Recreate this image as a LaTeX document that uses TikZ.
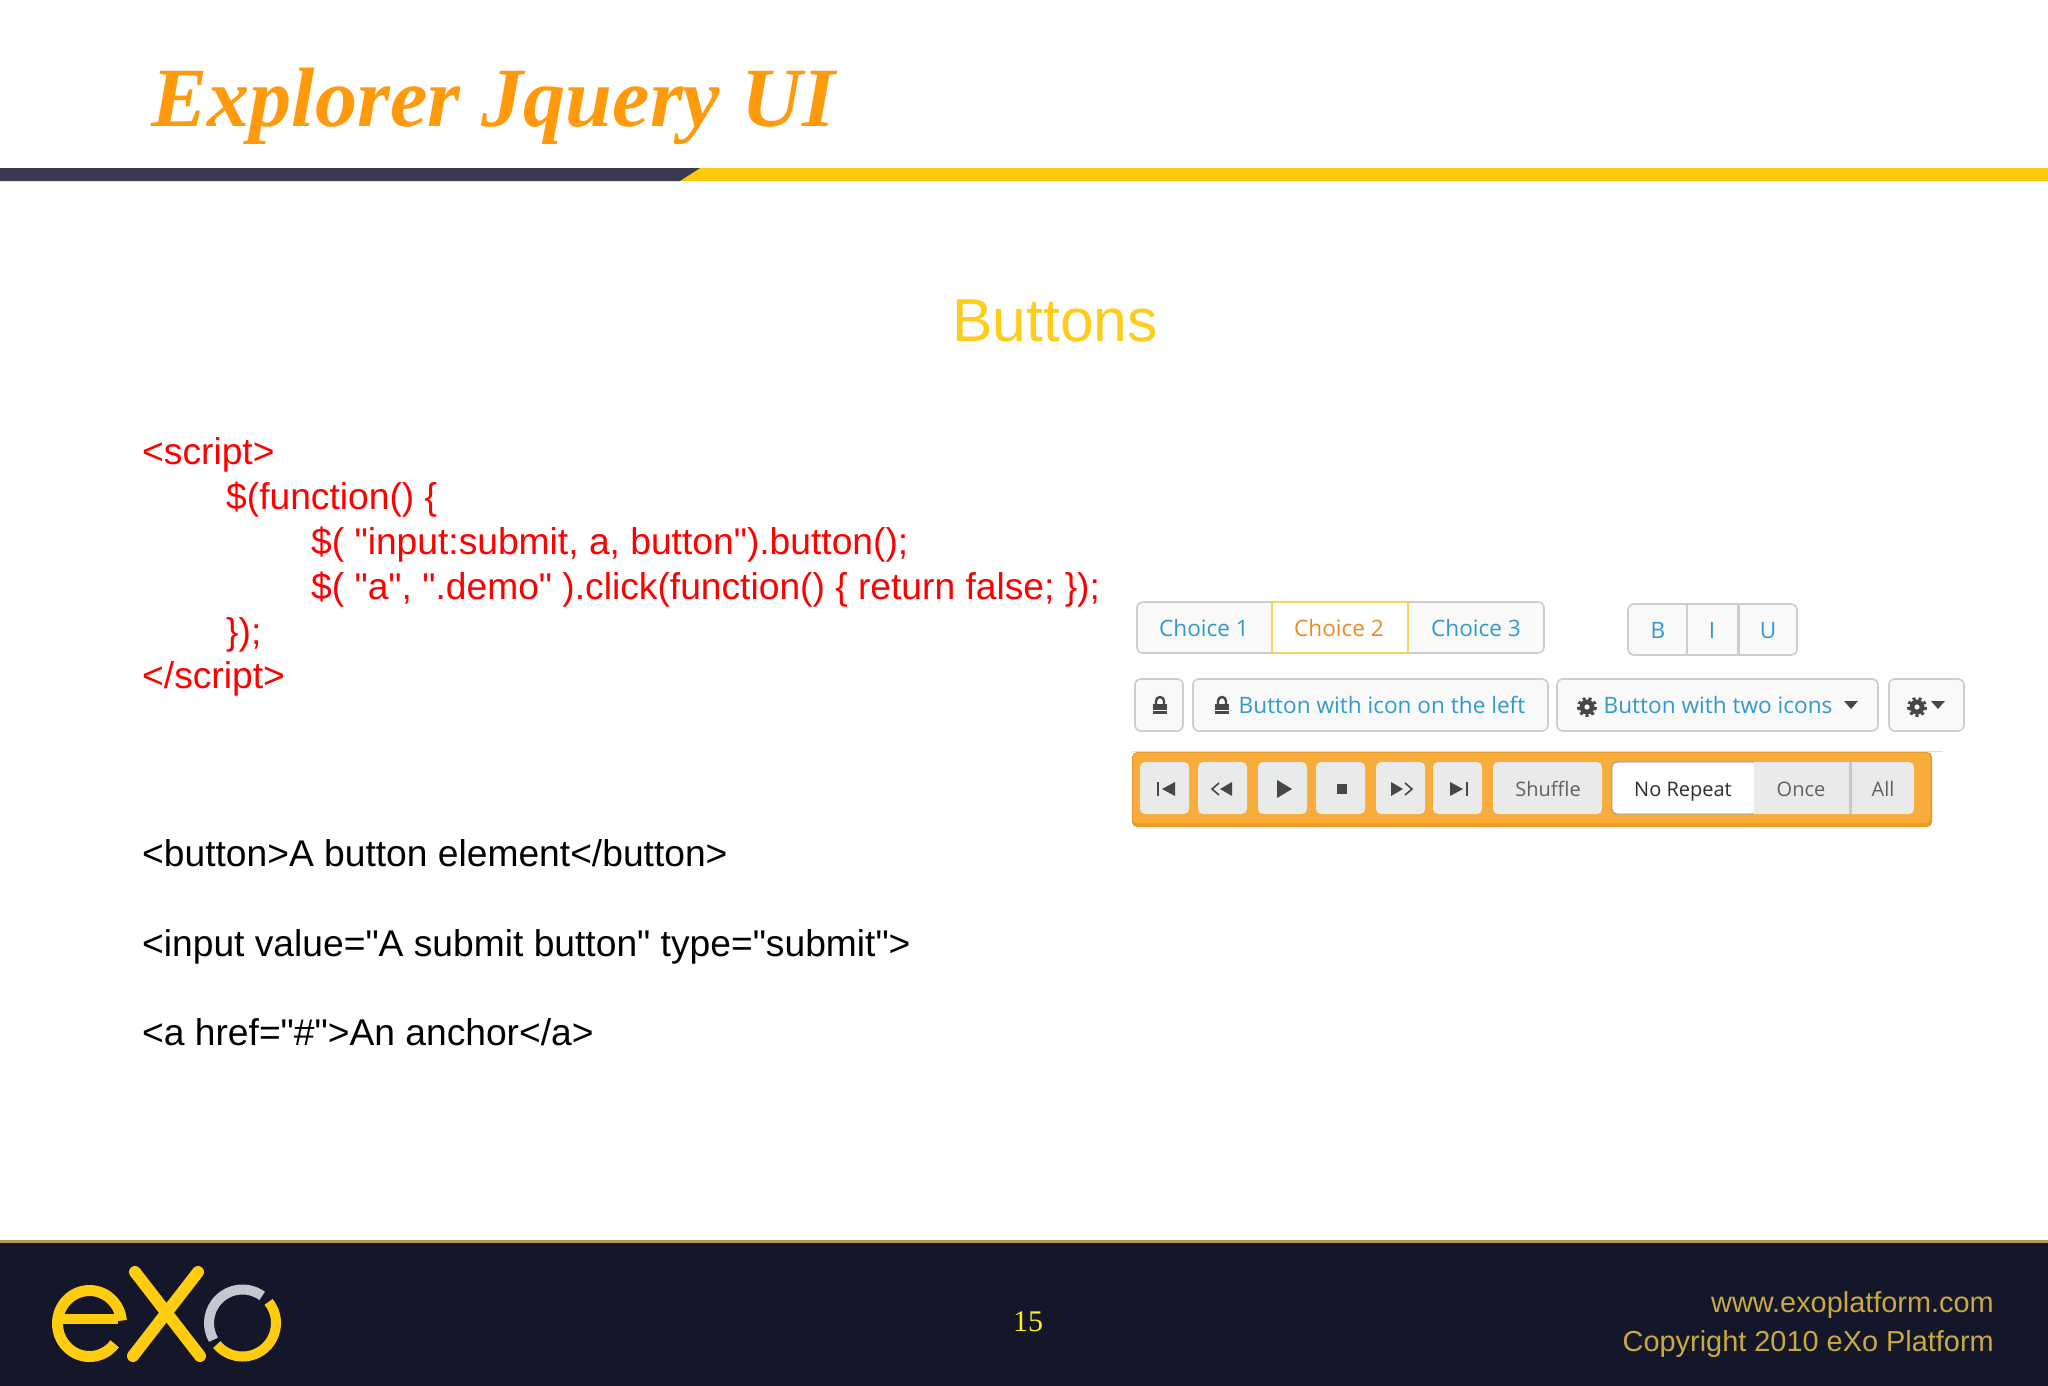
\documentclass[tikz,border=0pt]{standalone}
\usepackage{fontspec}
\setmainfont{Liberation Sans}
\newfontfamily\codeface{Liberation Sans}
\newfontfamily\serifface{Liberation Serif}
\newfontfamily\uiface{Open Sans}
\definecolor{barDark}{HTML}{3A3A52}
\definecolor{barGold}{HTML}{FFC90B}
\definecolor{titleOrange}{HTML}{FF9A0D}
\definecolor{headGold}{HTML}{FFCC1A}
\definecolor{footDark}{HTML}{131729}
\definecolor{footLine}{HTML}{B09B5A}
\definecolor{footText}{HTML}{C9A93F}
\definecolor{logoGold}{HTML}{FFCC0F}
\definecolor{logoGrey}{HTML}{C4C7CE}
\definecolor{uiBlue}{HTML}{2F9BCB}
\definecolor{uiOrange}{HTML}{EC8B1F}
\definecolor{uiEdge}{HTML}{CDCDCF}
\definecolor{uiFill}{HTML}{F9F9FA}
\definecolor{uiPick}{HTML}{F8D45C}
\definecolor{playOrange}{HTML}{F7AC3B}
\definecolor{playEdge}{HTML}{E99B25}
\definecolor{playFill}{HTML}{E9EAEA}
\tikzset{
  codeline/.style={anchor=base west, inner sep=0pt, font=\codeface\fontsize{37.2}{37.2}\selectfont},
  uilabel/.style={anchor=base, inner sep=0pt, text=uiBlue, font=\uiface\fontsize{22.6}{22.6}\selectfont},
  playlabel/.style={anchor=base, inner sep=0pt, text=black!62, font=\uiface\fontsize{20}{20}\selectfont},
  uibox/.style={draw=uiEdge, line width=1.6pt, fill=uiFill, rounded corners=6pt},
  playbox/.style={draw=none, fill=playFill, rounded corners=5pt},
  logostroke/.style={draw=logoGold, line width=11pt},
  icon/.style={fill=black!72, draw=none},
  pics/lockicon/.style={code={
    \fill[icon] (-7,-3) rectangle (7,7);
    \draw[black!72, line width=2.4pt] (-4,-3) -- (-4,-6) arc[start angle=180, end angle=360, radius=4] -- (4,-3);
    \draw[white, line width=1pt] (-7,3) -- (7,3);
  }},
  pics/gearicon/.style={code={
    \fill[icon] (0,0) circle[radius=7.5];
    \draw[black!72, line width=3pt, dash pattern=on 3pt off 2.9pt] (0,0) circle[radius=8.5];
    \fill[white] (0,0) circle[radius=2.6];
  }},
}
\begin{document}
\begin{tikzpicture}[x=1pt, y=-1pt]
\useasboundingbox (0,0) rectangle (2048,1386);
\fill[white] (0,0) rectangle (2048,1386);
\fill[barGold] (680,168) rectangle (2048,181);
\fill[barDark] (0,168) -- (700,168) -- (680,181) -- (0,181) -- cycle;
\node[anchor=base west, inner sep=0pt, text=titleOrange, font=\serifface\bfseries\itshape\fontsize{84.3}{84.3}\selectfont] (title) at (151,127) {Explorer Jquery UI};
\node[anchor=base, inner sep=0pt, text=headGold, font=\fontsize{60.6}{60.6}\selectfont] (head) at (1055,341) {Buttons};

\node[codeline, red] (code0) at (142,464) {<script>};
\node[codeline, red] (code1) at (226,509) {\$(function() \{};
\node[codeline, red] (code2) at (311,554) {\$( "input:submit, a, button").button();};
\node[codeline, red] (code3) at (311,599) {\$( "a", ".demo" ).click(function() \{ return false; \});};
\node[codeline, red] (code4) at (226,644) {\});};
\node[codeline, red] (code5) at (142,688) {</script>};
\node[codeline] (html0) at (142,866) {<button>A button element</button>};
\node[codeline] (html1) at (142,956) {<input value="A submit button" type="submit">};
\node[codeline] (html2) at (142,1045) {<a href="\#">An anchor</a>};

\draw[uibox] (1137,602) rectangle (1544,653);
\fill[white] (1272,602) rectangle (1408,653);
\draw[uiPick, line width=1.6pt] (1272,602) rectangle (1408,653);
\node[uilabel] (choice1) at (1204,636) {Choice 1};
\node[uilabel, text=uiOrange] (choice2) at (1339,636) {Choice 2};
\node[uilabel] (choice3) at (1476,636) {Choice 3};

\draw[uibox] (1628,604) rectangle (1797,655);
\draw[uiEdge, line width=1.4pt] (1687,604) -- (1687,655);
\draw[uiEdge, line width=3pt] (1738,604) -- (1738,655);
\node[uilabel] (bold) at (1658,638) {B};
\node[uilabel] (ital) at (1712,638) {I};
\node[uilabel] (under) at (1768,638) {U};

\draw[uibox] (1135,679) rectangle (1183,731);
\draw[uibox] (1193,679) rectangle (1548,731);
\draw[uibox] (1557,679) rectangle (1878,731);
\draw[uibox] (1889,679) rectangle (1964,731);
\pic at (1160,707) {lockicon};
\pic at (1222,707) {lockicon};
\node[uilabel] (btn1) at (1382,713) {Button with icon on the left};
\pic at (1587,707) {gearicon};
\node[uilabel] (btn2) at (1718,713) {Button with two icons};
\fill[icon] (1844,701) -- (1858,701) -- (1851,709) -- cycle;
\pic at (1917,707) {gearicon};
\fill[icon] (1931,701) -- (1945,701) -- (1938,709) -- cycle;

\draw[black!12, line width=1pt] (1132,751) -- (1943,751);
\fill[playEdge, rounded corners=5pt] (1132,752) rectangle (1932,827);
\fill[playOrange, rounded corners=4pt] (1133,753) rectangle (1930,823);
\fill[playbox] (1140,762) rectangle (1189,814);
\fill[playbox] (1198,762) rectangle (1247,814);
\fill[playbox] (1258,762) rectangle (1307,814);
\fill[playbox] (1316,762) rectangle (1365,814);
\fill[playbox] (1376,762) rectangle (1425,814);
\fill[playbox] (1433,762) rectangle (1482,814);
\fill[playbox] (1493,762) rectangle (1602,814);
\fill[playbox] (1612,762) rectangle (1914,814);
\fill[white, rounded corners=5pt] (1612,762) rectangle (1754,814);
\draw[black!45, line width=.8pt, rounded corners=5pt] (1754,762) -- (1612,762) -- (1612,814) -- (1754,814);
\draw[black!22, line width=3pt] (1850,762) -- (1850,814);

\fill[icon] (1157,782) rectangle (1159,796);
\fill[icon] (1175,782) -- (1175,796) -- (1162,789) -- cycle;
\draw[black!72, line width=1.6pt] (1219,783) -- (1212,789) -- (1219,795);
\fill[icon] (1232,782) -- (1232,796) -- (1220,789) -- cycle;
\fill[icon] (1277,780) -- (1292,789) -- (1277,798) -- cycle;
\fill[icon] (1337,784) rectangle (1347,794);
\fill[icon] (1391,782) -- (1391,796) -- (1403,789) -- cycle;
\draw[black!72, line width=1.6pt] (1405,783) -- (1412,789) -- (1405,795);
\fill[icon] (1450,782) -- (1450,796) -- (1463,789) -- cycle;
\fill[icon] (1466,782) rectangle (1468,796);

\node[playlabel] (shuffle) at (1548,796) {Shuffle};
\node[playlabel, text=black!82] (norepeat) at (1683,796) {No Repeat};
\node[playlabel] (once) at (1801,796) {Once};
\node[playlabel] (all) at (1883,796) {All};

\fill[footDark] (0,1240) rectangle (2048,1386);
\fill[footLine] (0,1240) rectangle (2048,1243);
\draw[logostroke, line width=10pt] (58,1319) -- (118,1319);
\draw[logostroke] (89.5,1323.5) ++(-5:32 and 33) arc[start angle=-5, end angle=-322, x radius=32, y radius=33];
\draw[logostroke, line width=12pt, line cap=round] (135,1272) -- (200,1356);
\draw[logostroke, line width=12pt, line cap=round] (198,1272) -- (133,1356);
\draw[logostroke, line width=10pt, draw=logoGrey] (242.5,1323) ++(-54:33.5) arc[start angle=-54, end angle=-210, radius=33.5];
\draw[logostroke, line width=10pt] (242.5,1323) ++(-39:33.5) arc[start angle=-39, end angle=140, radius=33.5];
\node[anchor=base, inner sep=0pt, text=yellow!90!white, font=\serifface\fontsize{30}{30}\selectfont] (page) at (1028,1331) {15};
\node[anchor=base east, inner sep=0pt, text=footText, font=\fontsize{28.9}{28.9}\selectfont] (web) at (1994,1312) {www.exoplatform.com};
\node[anchor=base east, inner sep=0pt, text=footText, font=\fontsize{28.9}{28.9}\selectfont] (copy) at (1994,1351) {Copyright 2010 eXo Platform};
\end{tikzpicture}
\end{document}
